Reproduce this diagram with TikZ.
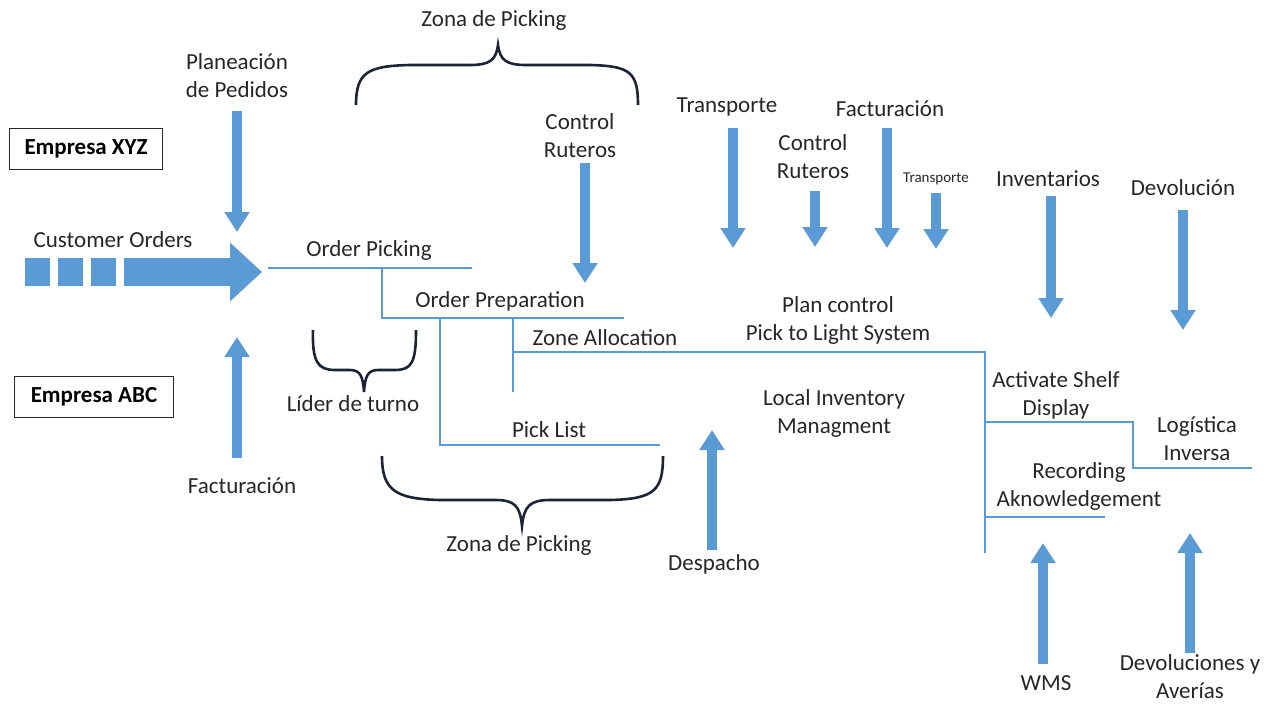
\documentclass[tikz,border=0pt]{standalone}
\usepackage{fontspec}
\setmainfont{Carlito}
\usetikzlibrary{arrows.meta}
\definecolor{azul}{HTML}{5B9BD5}
\definecolor{llave}{HTML}{1C2336}
\tikzset{
  flecha/.style={draw=azul, line width=10pt, -{Triangle[width=24pt,length=20pt]}},
  linea/.style={draw=azul, line width=1.3pt},
  etiqueta/.style={font=\fontsize{23}{28}\selectfont, align=center, inner sep=0pt, text=black!85},
  chica/.style={font=\fontsize{15}{18}\selectfont, inner sep=0pt, text=black!85},
  empresa/.style={draw=black!85, line width=1.2pt, font=\fontsize{23}{28}\selectfont\bfseries, minimum height=41pt, inner sep=0pt},
  llaves/.style={draw=llave, line width=2.6pt},
}
\begin{document}
\begin{tikzpicture}[x=1pt, y=-1pt]
\useasboundingbox (0,0) rectangle (1277,704);
% empresas
\node[empresa, minimum width=153pt] (xyz) at (86,149) {Empresa XYZ};
\node[empresa, minimum width=159pt] (abc) at (94,397) {Empresa ABC};
% pedidos de clientes
\node[etiqueta] (clientes) at (113,240) {Customer Orders};
\foreach \x in {25,58,91}
  \fill[azul] (\x,258) rectangle +(25,28);
\coordinate (c0) at (124,272);
\coordinate (c1) at (262,272);
\draw[azul, line width=28pt, -{Triangle[width=57pt,length=32pt]}] (c0) -- (c1);
% etiquetas de la izquierda
\node[etiqueta] (planeacion) at (237,76) {Planeación\\de Pedidos};
\coordinate (p0) at (237,111);
\coordinate (p1) at (237,232);
\draw[flecha] (p0) -- (p1);
\node[etiqueta] (fact1) at (242,486) {Facturación};
\coordinate (f0) at (237,458);
\coordinate (f1) at (237,337);
\draw[flecha] (f0) -- (f1);
\node[etiqueta] (zona1) at (494,20) {Zona de Picking};
\node[etiqueta] (ruteros1) at (580,136) {Control\\Ruteros};
\coordinate (r0) at (585,163);
\coordinate (r1) at (585,283);
\draw[flecha] (r0) -- (r1);
\node[etiqueta] (lider) at (353,404) {Líder de turno};
\node[etiqueta] (zona2) at (519,545) {Zona de Picking};
\node[etiqueta] (despacho) at (714,564) {Despacho};
\coordinate (d0) at (712,550);
\coordinate (d1) at (712,430);
\draw[flecha] (d0) -- (d1);
% llaves
\draw[llaves] (356,105) .. controls (356,72) and (368,66) .. (410,65)
  -- (470,65) .. controls (490,65) and (496,60) .. (498,45)
  .. controls (500,60) and (506,65) .. (526,65) -- (590,65)
  .. controls (630,66) and (638,72) .. (638,105);
\draw[llaves] (382,456) .. controls (382,490) and (395,499) .. (440,500)
  -- (495,500) .. controls (515,500) and (520,506) .. (522,526)
  .. controls (524,506) and (530,500) .. (550,500) -- (610,500)
  .. controls (655,499) and (663,490) .. (663,456);
\draw[llaves] (313,330) .. controls (312,362) and (318,370) .. (335,370)
  -- (350,370) .. controls (360,370) and (363,376) .. (364,392)
  .. controls (365,376) and (368,370) .. (378,370) -- (395,370)
  .. controls (412,370) and (416,362) .. (416,330);
% arbol de procesos
\node[etiqueta] (picking) at (369,250) {Order Picking};
\node[etiqueta] (preparacion) at (500,301) {Order Preparation};
\node[etiqueta] (zonas) at (605,338) {Zone Allocation};
\node[etiqueta] (lista) at (549,430) {Pick List};
\node[etiqueta] (plan) at (838,320) {Plan control\\Pick to Light System};
\node[etiqueta] (inventario) at (834,413) {Local Inventory\\Managment};
\node[etiqueta] (shelf) at (1056,395) {Activate Shelf\\Display};
\node[etiqueta] (logistica) at (1197,439) {Logística\\Inversa};
\node[etiqueta] (recording) at (1079,486) {Recording\\Aknowledgement};
\coordinate (a1) at (268,268);
\coordinate (a2) at (472,268);
\coordinate (b1) at (382,268);
\coordinate (b2) at (382,318);
\coordinate (b3) at (624,318);
\coordinate (e1) at (440,318);
\coordinate (e2) at (440,445);
\coordinate (e3) at (660,445);
\coordinate (g1) at (513,318);
\coordinate (g2) at (513,392);
\coordinate (g3) at (513,352);
\coordinate (h1) at (985,352);
\coordinate (h2) at (985,553);
\coordinate (k1) at (985,422);
\coordinate (k2) at (1133,422);
\coordinate (k3) at (1133,468);
\coordinate (k4) at (1252,468);
\coordinate (m1) at (985,517);
\coordinate (m2) at (1105,517);
\draw[linea] (a1) -- (a2);
\draw[linea] (b1) -- (b2) -- (b3);
\draw[linea] (e1) -- (e2) -- (e3);
\draw[linea] (g1) -- (g2);
\draw[linea] (g3) -- (h1) -- (h2);
\draw[linea] (k1) -- (k2) -- (k3) -- (k4);
\draw[linea] (m1) -- (m2);
% entradas de arriba
\node[etiqueta] (trans1) at (727,107) {Transporte};
\node[etiqueta] (ruteros2) at (813,157) {Control\\Ruteros};
\node[etiqueta] (fact2) at (890,109) {Facturación};
\node[chica] (trans2) at (936,179) {Transporte};
\node[etiqueta] (inventarios) at (1048,179) {Inventarios};
\node[etiqueta] (devolucion) at (1183,188) {Devolución};
\draw[flecha] (733,128) coordinate (t0) -- (733,248) coordinate (t1);
\draw[flecha] (815,191) coordinate (u0) -- (815,247) coordinate (u1);
\draw[flecha] (887,128) coordinate (v0) -- (887,248) coordinate (v1);
\draw[flecha] (936,193) coordinate (w0) -- (936,249) coordinate (w1);
\draw[flecha] (1051,196) coordinate (i0) -- (1051,318) coordinate (i1);
\draw[flecha] (1183,210) coordinate (n0) -- (1183,330) coordinate (n1);
% entradas de abajo
\node[etiqueta] (wms) at (1046,683) {WMS};
\node[etiqueta] (averias) at (1190,677) {Devoluciones y\\Averías};
\draw[flecha] (1043,664) coordinate (s0) -- (1043,543) coordinate (s1);
\draw[flecha] (1190,653) coordinate (q0) -- (1190,533) coordinate (q1);
\end{tikzpicture}
\end{document}
